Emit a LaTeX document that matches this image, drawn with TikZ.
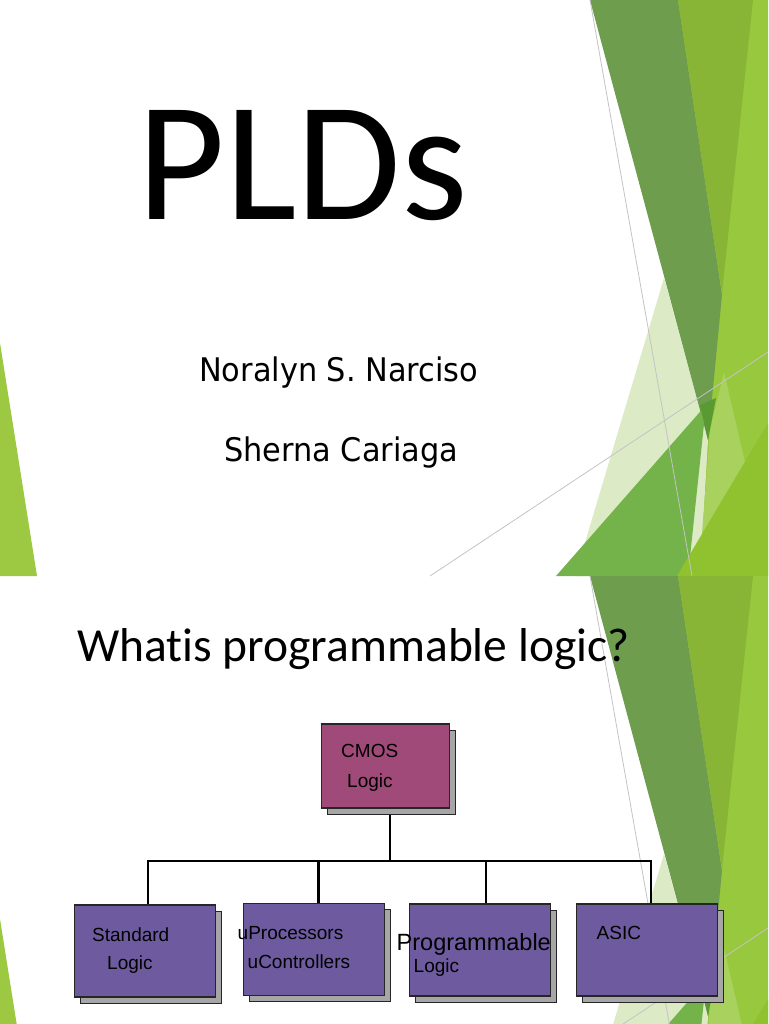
\documentclass[tikz,border=0pt]{standalone}
\usepackage{fontspec}
\setmainfont[Ligatures=NoCommon]{Carlito}
\newfontfamily\authorfont[FakeStretch=0.935]{DejaVu Sans}
\newfontfamily\arialfont{Liberation Sans}
\usetikzlibrary{shadows}
\definecolor{lightstrip}{HTML}{98C83D}
\definecolor{midband}{HTML}{88B535}
\definecolor{darkband}{HTML}{6E9D4E}
\definecolor{palegreen}{HTML}{DCEAC5}
\definecolor{lightwedge}{HTML}{A8D15E}
\definecolor{medgreen}{HTML}{74B24A}
\definecolor{deepgreen}{HTML}{5A9A32}
\definecolor{yellowgreen}{HTML}{8FC22E}
\definecolor{leftgreen}{HTML}{9DC842}
\definecolor{thinline}{HTML}{C4C4C4}
\definecolor{cmospink}{HTML}{A04A7A}
\definecolor{boxpurple}{HTML}{6E5B9F}
\definecolor{shadowgray}{HTML}{A6A6A6}
\definecolor{boxline}{HTML}{262626}
\newcommand\slidedecor{%
  \fill[lightstrip] (678,0) -- (768,0) -- (768,576) -- (690,576) -- (708,440) -- cycle;
  \fill[palegreen] (664,278) -- (708,440) -- (700,576) -- (575,576) -- cycle;
  \fill[lightwedge] (710,430) -- (724,372) -- (745,462) -- (700,560) -- cycle;
  \fill[darkband] (590,0) -- (678,0) -- (722,295) -- (708,440) -- cycle;
  \fill[midband] (678,0) -- (753,0) -- (722,293) -- cycle;
  \fill[medgreen] (556,576) -- (706,405) -- (688,576) -- cycle;
  \fill[deepgreen] (700,405) -- (716,398) -- (708,440) -- cycle;
  \fill[yellowgreen] (677,576) -- (768,423) -- (768,576) -- cycle;
  \fill[leftgreen] (0,343) -- (37,576) -- (0,576) -- cycle;
  \draw[thinline, line width=0.8pt] (590,0) -- (692,576);
  \draw[thinline, line width=0.8pt] (430,576) -- (768,352);
}
\tikzset{
  box/.style={draw=boxline, line width=1.3pt, minimum width=141pt, minimum height=92pt,
    inner sep=0pt, fill=boxpurple,
    general shadow={fill=shadowgray, draw=boxline, line width=1pt,
      shadow xshift=6pt, shadow yshift=-6pt}},
  lbl/.style={font=\arialfont\fontsize{19}{21}\selectfont, anchor=base west,
    inner sep=0pt, text=black},
  conn/.style={draw=black, line width=2pt},
  plain/.style={anchor=base west, inner sep=0pt, text=black}
}
\begin{document}
\begin{tikzpicture}[x=1pt,y=-1pt]
\useasboundingbox (0,0) rectangle (768,1024);
\fill[white] (0,0) rectangle (768,1024);
% slide 1 decoration
\begin{scope}
  \clip (0,0) rectangle (768,576);
  \slidedecor
\end{scope}
% slide 2 decoration
\begin{scope}[shift={(0,576)}]
  \clip (0,0) rectangle (768,448);
  \slidedecor
\end{scope}
% slide 1 text
\node[plain, font=\fontsize{170}{170}\selectfont] (plds) at (137,219) {PLDs};
\node[plain, font=\authorfont\fontsize{32.5}{34}\selectfont] (auth1) at (199,381.7) {Noralyn S. Narciso};
\node[plain, font=\authorfont\fontsize{32.5}{34}\selectfont] (auth2) at (224,461.7) {Sherna Cariaga};
% slide 2 title
\node[plain, font=\fontsize{47.5}{50}\selectfont] (title) at (77,661) {Whatis programmable logic?};
% boxes
\node[box, fill=cmospink, minimum width=128pt, minimum height=84pt] (cmos) at (385.5,766) {};
\node[box] (std) at (144.7,951) {};
\node[box] (up) at (314,949.7) {};
\node[box] (pl) at (480,950) {};
\node[box] (asic) at (647,950) {};
% connectors
\coordinate (bus) at (390,861);
\draw[conn] ([shift={(4.5,6)}]cmos.south) -- (bus);
\draw[conn] ([xshift=3.5pt]std.north) |- (bus) -| ([xshift=4pt]asic.north);
\draw[conn] ([xshift=6pt]pl.north) -- ([xshift=6pt]pl.north |- bus);
\draw[conn, line width=3pt] ([xshift=4pt]up.north) -- ([xshift=4pt]up.north |- bus);
% labels
\node[lbl] (cmosA) at (341,757) {CMOS};
\node[lbl] (cmosB) at (347,787) {Logic};
\node[lbl] (stdA) at (92,941) {Standard};
\node[lbl] (stdB) at (107,969) {Logic};
\node[lbl] (upA) at (237.5,939.5) {uProcessors};
\node[lbl] (upB) at (247.5,968.5) {uControllers};
\node[lbl, font=\arialfont\fontsize{23.5}{25}\selectfont] (plA) at (396.5,950) {Programmable};
\node[lbl] (plB) at (413.5,972.5) {Logic};
\node[lbl] (asicA) at (596.5,939.5) {ASIC};
\end{tikzpicture}
\end{document}
